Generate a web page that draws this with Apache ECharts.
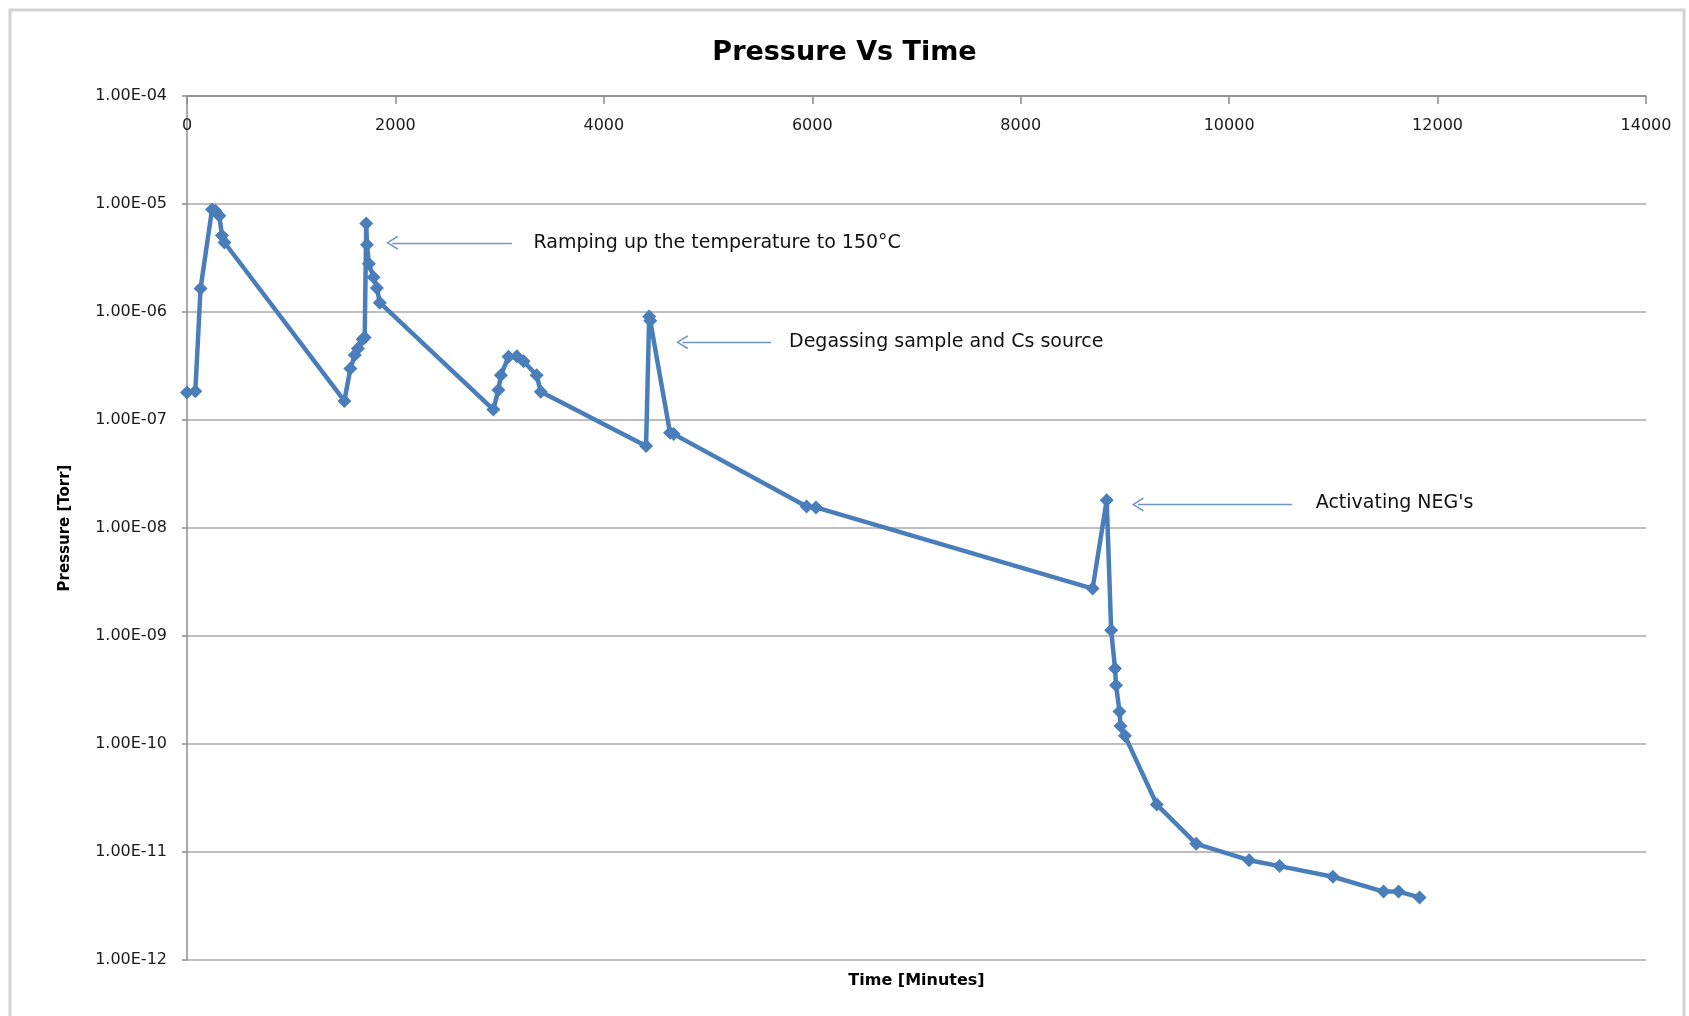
<!DOCTYPE html>
<html><head><meta charset="utf-8">
<script src="https://cdn.jsdelivr.net/npm/echarts@6/dist/echarts.min.js"></script>
<style>html,body{margin:0;padding:0;background:#fff}#chart{width:1689px;height:1016px}</style>
</head><body><div id="chart"></div>
<script>
// ---- data ----
const timeMinutes = [0, 80, 130, 240, 275, 310, 335, 360,
  1510, 1568, 1610, 1640, 1685, 1705, 1720, 1727, 1745, 1790, 1822, 1850,
  2940, 2988, 3012, 3085, 3165, 3230, 3355, 3395,
  4405, 4435, 4445, 4635, 4670, 5945, 6035,
  8690, 8825, 8868, 8905, 8915, 8948, 8958, 9000,
  9306, 9684, 10192, 10484, 10996, 11482, 11626, 11827];
const pressureTorr = [1.8e-7, 1.85e-7, 1.65e-6, 8.9e-6, 8.6e-6, 7.8e-6, 5.1e-6, 4.4e-6,
  1.5e-7, 3.0e-7, 4.0e-7, 4.6e-7, 5.6e-7, 5.8e-7, 6.6e-6, 4.2e-6, 2.8e-6, 2.1e-6, 1.67e-6, 1.22e-6,
  1.25e-7, 1.9e-7, 2.6e-7, 3.85e-7, 3.9e-7, 3.5e-7, 2.6e-7, 1.83e-7,
  5.75e-8, 9.1e-7, 8.3e-7, 7.6e-8, 7.4e-8, 1.58e-8, 1.55e-8,
  2.75e-9, 1.81e-8, 1.13e-9, 5.0e-10, 3.5e-10, 2.0e-10, 1.47e-10, 1.19e-10,
  2.75e-11, 1.19e-11, 8.4e-12, 7.4e-12, 5.9e-12, 4.3e-12, 4.3e-12, 3.8e-12];
const yTickLabels = ['1.00E-12','1.00E-11','1.00E-10','1.00E-09','1.00E-08','1.00E-07','1.00E-06','1.00E-05','1.00E-04'];
const annotationTexts = ['Ramping up the temperature to 150°C', 'Degassing sample and Cs source', "Activating NEG's"];
const annotationTail = [[3118, 4.37e-6], [5604, 5.26e-7], [10603, 1.65e-8]];
const annotationHead = [[1970, 4.37e-6], [4752, 5.26e-7], [9125, 1.65e-8]];
const annotationTextAt = [[3320, 4.37e-6], [5772, 5.26e-7], [10826, 1.70e-8]];

const FONT = 'DejaVu Sans';
const chart = echarts.init(document.getElementById('chart'));
const arrowPath = 'path://M5,0 L10,9 L9.1,9.9 L5,2.2 L0.9,9.9 L0,9 Z';

chart.setOption({
  backgroundColor: '#fff',
  animation: false,
  title: {
    text: 'Pressure Vs Time', left: 'center', top: 34,
    textStyle: { fontFamily: FONT, fontWeight: 'bold', fontSize: 27, color: '#000' }
  },
  graphic: [{
    type: 'rect', silent: true, z: -1,
    shape: { x: 10, y: 10, width: 1674, height: 1040 },
    style: { fill: 'none', stroke: '#d2d2d2', lineWidth: 3 }
  }],
  grid: { left: 187, right: 43, top: 96, bottom: 56 },
  xAxis: [{
    type: 'value', position: 'top', min: 0, max: 14000, interval: 2000,
    axisLine: { show: true, lineStyle: { color: '#8c8c8c', width: 1.5 } },
    axisTick: { show: true, inside: true, length: 8, lineStyle: { color: '#8c8c8c', width: 1.5 } },
    axisLabel: { inside: true, margin: 22, formatter: v => String(v),
      fontFamily: FONT, fontSize: 16, color: '#1a1a1a' },
    splitLine: { show: false }
  }, {
    type: 'value', position: 'bottom', min: 0, max: 14000,
    name: 'Time [Minutes]', nameLocation: 'middle', nameGap: 13,
    nameTextStyle: { fontFamily: FONT, fontWeight: 'bold', fontSize: 16, color: '#000' },
    axisLine: { show: false }, axisTick: { show: false }, axisLabel: { show: false }, splitLine: { show: false }
  }],
  yAxis: {
    type: 'log', logBase: 10, min: 1e-12, max: 1e-4, splitNumber: 8,
    name: 'Pressure [Torr]', nameLocation: 'middle', nameRotate: 90, nameGap: 114,
    nameTextStyle: { fontFamily: FONT, fontWeight: 'bold', fontSize: 15, color: '#000' },
    axisLine: { show: true, lineStyle: { color: '#8c8c8c', width: 1.5 } },
    axisTick: { show: true, length: 5, lineStyle: { color: '#8c8c8c', width: 1.5 } },
    axisLabel: { margin: 20, fontFamily: FONT, fontSize: 16, color: '#1a1a1a',
      formatter: v => yTickLabels[Math.round(Math.log10(v)) + 12] },
    splitLine: { show: true, lineStyle: { color: '#a8a8a8', width: 1.5 } }
  },
  series: [{
    type: 'line',
    data: timeMinutes.map((t, i) => [t, pressureTorr[i]]),
    symbol: 'diamond', symbolSize: 14, showAllSymbol: true,
    lineStyle: { color: '#4A7EBB', width: 4.5 },
    itemStyle: { color: '#4A7EBB' },
    silent: true,
    markLine: {
      silent: true, animation: false,
      symbol: ['none', arrowPath], symbolSize: [14, 12],
      lineStyle: { color: '#7096C8', width: 1.3, type: 'solid' },
      label: { show: false },
      data: annotationTail.map((t, i) => [{ coord: t }, { coord: annotationHead[i] }])
    },
    markPoint: {
      silent: true, animation: false,
      data: annotationTextAt.map((c, i) => ({
        coord: c, symbol: 'circle', symbolSize: 1, itemStyle: { color: 'rgba(0,0,0,0)' },
        label: { show: true, position: 'right', distance: 0, formatter: annotationTexts[i],
          fontFamily: FONT, fontSize: 19, color: '#111' }
      }))
    }
  }]
});
</script></body></html>
